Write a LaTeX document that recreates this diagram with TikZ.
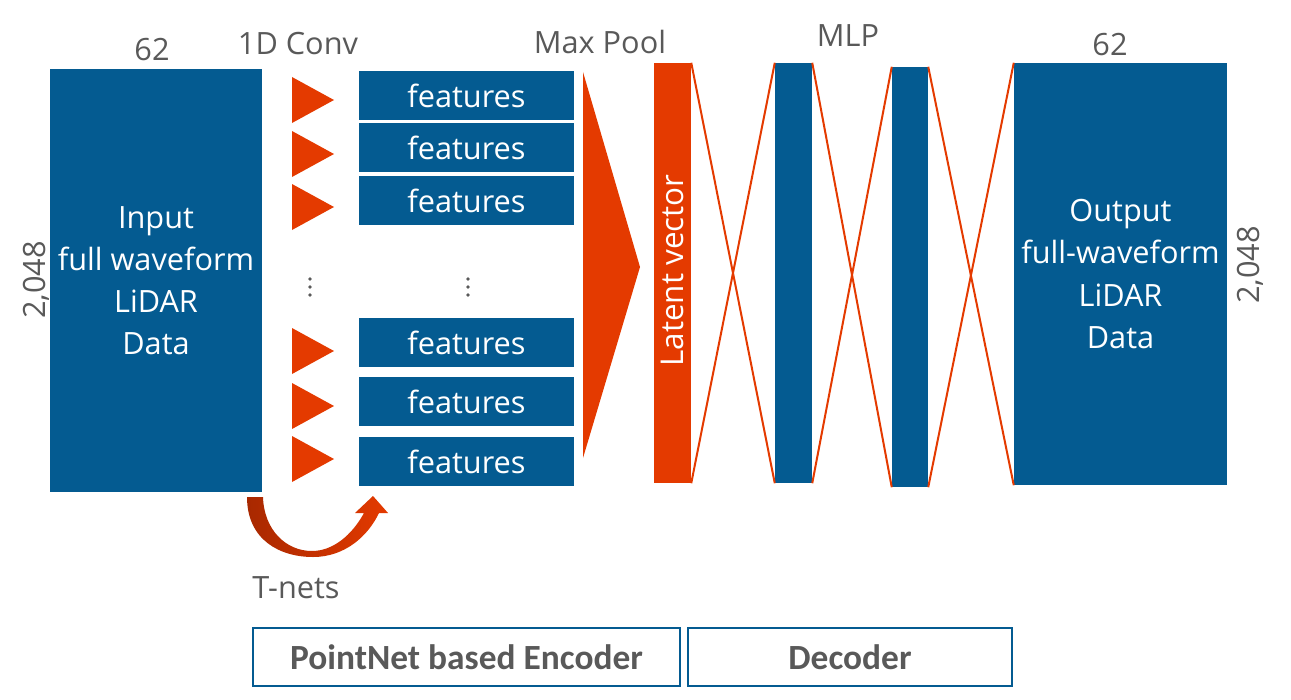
\documentclass[tikz,border=0pt]{standalone}
\usepackage{fontspec}
\setmainfont{Open Sans}
\newfontfamily\partfont{Carlito}
\usetikzlibrary{positioning,calc}
\definecolor{netblue}{RGB}{4,91,145}
\definecolor{netred}{RGB}{228,58,0}
\definecolor{netdark}{RGB}{168,40,0}
\definecolor{labelgray}{RGB}{89,89,89}

\begin{document}
\begin{tikzpicture}[x=0.3mm,y=-0.3mm,
    block/.style={rectangle, fill=netblue, text=white, inner sep=0pt, align=center, font=\fontsize{26.2}{36}\selectfont},
    feat/.style={block, minimum width=64.5mm, minimum height=14.7mm},
    bar/.style={block, minimum width=11.1mm, minimum height=126mm},
    dim/.style={text=labelgray, inner sep=0pt, font=\fontsize{26.2}{30}\selectfont},
    link/.style={netred, line width=0.6mm},
    part/.style={draw=netblue, line width=0.5mm, inner sep=0pt, minimum height=17.4mm, text=labelgray, font=\partfont\bfseries\fontsize{30.2}{34}\selectfont}]

    \useasboundingbox (0,0) rectangle (1291,700);

    % input data
    \node[block, minimum width=63.6mm, minimum height=126.9mm] (in) at (156,280.5) {Input\\full waveform\\LiDAR\\Data};
    \node[dim] (inw) at (152,50) {62};
    \node[dim, rotate=90] (inh) at (36,280) {2,048};

    % 1D conv + features
    \node[dim] (conv) at (298,44) {1D Conv};
    \foreach \y in {100,154,207,351,406,459}{
        \fill[netred] (292,\y-23) -- (334,\y) -- (292,\y+23) -- cycle;
    }
    \foreach \y [count=\i] in {95.5,147.5,200.5,342.5,401.5,461.5}{
        \node[feat] (f\i) at (466.5,\y) {features};
    }
    \foreach \x in {310,468}{
        \foreach \k in {-1,0,1}
            \fill[labelgray] (\x,287+8*\k) circle (0.55mm);
    }

    % T-nets
    \shade[left color=netdark, middle color=netred, right color=netred]
        (247,497) .. controls (247,540) and (280,557) .. (313,557)
        .. controls (345,557) and (368,536) .. (379,513) -- (388,513) -- (373,496) -- (355,513) -- (364,513)
        .. controls (352,535) and (333,551) .. (312,551)
        .. controls (286,551) and (264,530) .. (263,497) -- cycle;
    \node[dim] (tnet) at (296,588) {T-nets};

    % max pool + latent vector
    \node[dim] (pool) at (600,42) {Max Pool};
    \fill[netred] (583,72) -- (640,267) -- (583,458) -- cycle;
    \node[bar, fill=netred] (lat) at (672.5,273) {};
    \node[text=white, rotate=90, font=\fontsize{26.8}{30}\selectfont] at (672.5,270.5) {Latent vector};

    % decoder MLP
    \node[dim] (mlp) at (848,36) {MLP};
    \node[bar] (mlp1) at (793.5,273) {};
    \node[bar, minimum width=10.8mm] (mlp2) at (910,277) {};

    % output data
    \node[block, minimum width=63.9mm, minimum height=126.6mm] (out) at (1120.5,274) {Output\\full-waveform\\LiDAR\\Data};
    \node[dim] (outw) at (1110,45) {62};
    \node[dim, rotate=90] (outh) at (1250,265) {2,048};

    \foreach \s/ \d in {lat/mlp1, mlp1/mlp2, mlp2/out}{
        \draw[link] (\s.north east) -- (\d.south west);
        \draw[link] (\s.south east) -- (\d.north west);
    }

    % parts
    \node[part, minimum width=128.1mm] (enc) at (466.5,657) {PointNet based Encoder};
    \node[part, minimum width=97.2mm] (dec) at (850,657) {Decoder};

\end{tikzpicture}
\end{document}
